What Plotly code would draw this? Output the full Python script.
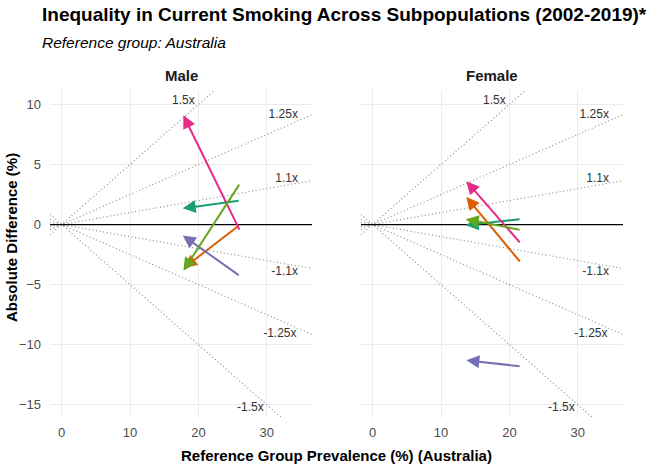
import plotly.graph_objects as go

# ---------------- data ----------------
panels = ["Male", "Female"]
groups = ["Group 1", "Group 2", "Group 3", "Group 4", "Group 5"]
colors = ["#1B9E77", "#D95F02", "#7570B3", "#E7298A", "#66A61E"]

# reference prevalence (x) at start (2002) and end (2019)
male_x_start = [26.1, 26.1, 26.1, 26.1, 26.1]
male_x_end = [17.7, 17.9, 17.7, 17.8, 17.8]
male_y_start = [2.0, 0.0, -4.3, -0.55, 3.45]
male_y_end = [1.35, -3.6, -0.9, 9.1, -3.85]

female_x_start = [21.7, 21.7, 21.7, 21.7, 21.7]
female_x_end = [13.6, 13.7, 13.7, 13.7, 13.6]
female_y_start = [0.45, -3.2, -11.8, -1.6, -0.45]
female_y_end = [-0.05, 2.3, -11.3, 3.6, 0.45]

ratio_slopes = [0.5, 0.25, 0.1, -0.1, -0.25, -0.5]
ratio_labels = ["1.5x", "1.25x", "1.1x", "-1.1x", "-1.25x", "-1.5x"]
label_x = [17.8, 32.4, 32.9, 32.6, 31.9, 27.6]
label_y = [10.3, 9.1, 3.8, -3.95, -9.1, -15.3]

x_ticks = [0, 10, 20, 30]
y_ticks = [-15, -10, -5, 0, 5, 10]
x_range = [-1.7, 36.6]
y_range = [-16.1, 11.2]

title = "Inequality in Current Smoking Across Subpopulations (2002-2019)*"
subtitle = "Reference group: Australia"
x_title = "Reference Group Prevalence (%) (Australia)"
y_title = "Absolute Difference (%)"

FONT = "Liberation Sans, Arial, Helvetica, sans-serif"

# ---------------- figure ----------------
fig = go.Figure()
W, H = 647, 466
ml, mr, mt, mb = 50, 24, 90, 48
pw = W - ml - mr
d1 = (312 - ml) / pw
d2 = (361 - ml) / pw

data = {
    "Male": (male_x_start, male_x_end, male_y_start, male_y_end),
    "Female": (female_x_start, female_x_end, female_y_start, female_y_end),
}

annotations = []
for pi, panel in enumerate(panels):
    xa = "x" if pi == 0 else "x2"
    ya = "y" if pi == 0 else "y2"
    # ratio reference lines
    for k in ratio_slopes:
        xs = [x_range[0], 60]
        fig.add_trace(go.Scatter(
            x=xs, y=[k * v for v in xs], mode="lines",
            line=dict(color="#888888", width=1.1, dash="1px,2.6px"),
            xaxis=xa, yaxis=ya, showlegend=False, hoverinfo="skip"))
    # zero line
    fig.add_trace(go.Scatter(
        x=[x_range[0], x_range[1]], y=[0, 0], mode="lines",
        line=dict(color="black", width=1.3),
        xaxis=xa, yaxis=ya, showlegend=False, hoverinfo="skip"))
    # ratio labels
    fig.add_trace(go.Scatter(
        x=label_x, y=label_y, text=ratio_labels, mode="text",
        textfont=dict(family=FONT, size=12, color="#333333"),
        xaxis=xa, yaxis=ya, showlegend=False, hoverinfo="skip"))
    xs0, xs1, ys0, ys1 = data[panel]
    for g in range(len(groups)):
        annotations.append(dict(
            x=xs1[g], y=ys1[g], ax=xs0[g], ay=ys0[g],
            xref=xa, yref=ya, axref=xa, ayref=ya,
            showarrow=True, arrowhead=2, arrowsize=1.3, arrowwidth=2,
            arrowcolor=colors[g], text="", standoff=0, startstandoff=0))
    # strip title
    annotations.append(dict(
        text=f"<b>{panel}</b>", x=(d1 / 2) if pi == 0 else (d2 + (1 - d2) / 2),
        y=1, xref="paper", yref="paper", xanchor="center", yanchor="bottom",
        yshift=4, showarrow=False, font=dict(family=FONT, size=15, color="#1a1a1a")))

ph = H - mt - mb
annotations += [
    dict(text=f"<b>{title}</b>", x=(40 - ml) / pw, y=(H - mb - 15) / ph,
         xref="paper", yref="paper", xanchor="left", yanchor="middle",
         showarrow=False, font=dict(family=FONT, size=19, color="black")),
    dict(text=f"<i>{subtitle}</i>", x=(40 - ml) / pw, y=(H - mb - 42) / ph,
         xref="paper", yref="paper", xanchor="left", yanchor="middle",
         showarrow=False, font=dict(family=FONT, size=15.5, color="black")),
    dict(text=f"<b>{x_title}</b>", x=0.5, y=(H - mb - 455) / ph,
         xref="paper", yref="paper", xanchor="center", yanchor="middle",
         showarrow=False, font=dict(family=FONT, size=15, color="black")),
    dict(text=f"<b>{y_title}</b>", x=(11 - ml) / pw, y=(H - mb - 238) / ph,
         xref="paper", yref="paper", xanchor="center", yanchor="middle",
         textangle=-90, showarrow=False,
         font=dict(family=FONT, size=15, color="black")),
]

axis_common = dict(
    showgrid=True, gridcolor="#EBEBEB", gridwidth=1.2, zeroline=False,
    showline=False, ticks="", tickfont=dict(family=FONT, size=13, color="#4D4D4D"),
)
fig.update_layout(
    width=W, height=H, margin=dict(l=ml, r=mr, t=mt, b=mb),
    plot_bgcolor="white", paper_bgcolor="white", showlegend=False,
    xaxis=dict(domain=[0, d1], range=x_range, tickvals=x_ticks, anchor="y",
               ticklabelstandoff=5, **axis_common),
    xaxis2=dict(domain=[d2, 1], range=x_range, tickvals=x_ticks, anchor="y2",
                ticklabelstandoff=5, **axis_common),
    yaxis=dict(domain=[0, 1], range=y_range, tickvals=y_ticks, anchor="x",
               ticklabelstandoff=8, **axis_common),
    yaxis2=dict(domain=[0, 1], range=y_range, tickvals=y_ticks, anchor="x2",
                showticklabels=False, **axis_common),
    annotations=annotations,
)

fig.write_html("out.html")
